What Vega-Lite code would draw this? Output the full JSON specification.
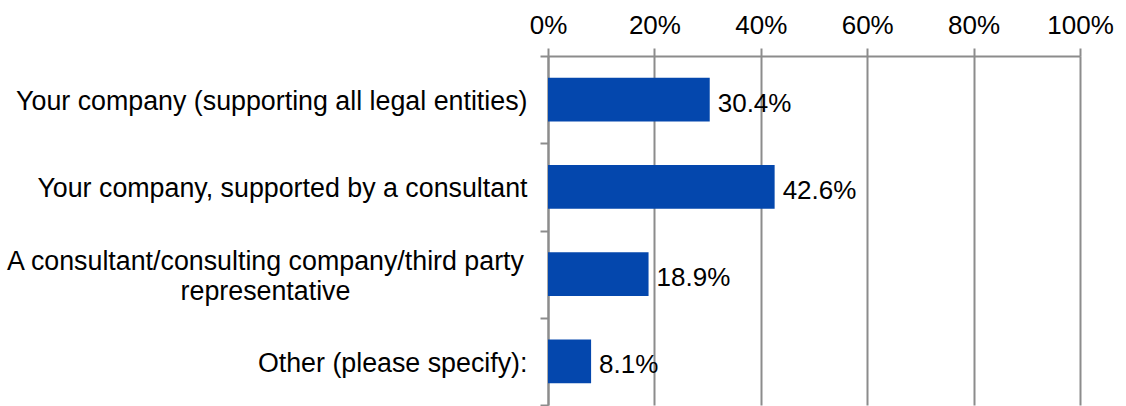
{
  "$schema": "https://vega.github.io/schema/vega-lite/v6.json",
  "autosize": {"type": "none"},
  "width": 532,
  "height": 349,
  "padding": {"left": 548, "top": 56, "right": 46, "bottom": 1},
  "background": "white",
  "config": {
    "view": {"stroke": null},
    "font": "Liberation Sans"
  },
  "data": {
    "values": [
      {"category": "Your company (supporting all legal entities)", "value": 0.304},
      {"category": "Your company, supported by a consultant", "value": 0.426},
      {"category": "A consultant/consulting company/third party representative", "value": 0.189},
      {"category": "Other (please specify):", "value": 0.081}
    ]
  },
  "encoding": {
    "y": {
      "field": "category",
      "type": "nominal",
      "sort": null,
      "title": null,
      "scale": {"paddingInner": 0, "paddingOuter": 0},
      "axis": {
        "orient": "left",
        "tickBand": "extent",
        "domainColor": "#8c8c8c",
        "domainWidth": 2,
        "tickColor": "#8c8c8c",
        "tickWidth": 2,
        "tickSize": 8,
        "labelFont": "Liberation Sans",
        "labelFontSize": 26.8,
        "labelColor": "#000000",
        "labelLimit": 600,
        "labelLineHeight": 30,
        "labelAlign": {"condition": {"test": "datum.value == 'A consultant/consulting company/third party representative'", "value": "center"}, "value": "right"},
        "labelPadding": {"condition": {"test": "datum.value == 'A consultant/consulting company/third party representative'", "value": 275}, "value": 13},
        "labelOffset": {"condition": {"test": "datum.value == 'A consultant/consulting company/third party representative'", "value": -13}, "value": 2},
        "labelExpr": "datum.value == 'A consultant/consulting company/third party representative' ? ['A consultant/consulting company/third party', 'representative'] : datum.label",
        "grid": false
      }
    }
  },
  "layer": [
    {
      "mark": {"type": "bar", "color": "#0447ad", "height": {"band": 0.5}},
      "encoding": {
        "x": {
          "field": "value",
          "type": "quantitative",
          "title": null,
          "scale": {"domain": [0, 1], "nice": false},
          "axis": {
            "orient": "top",
            "values": [0, 0.2, 0.4, 0.6, 0.8, 1],
            "format": ".0%",
            "grid": true,
            "gridColor": "#8c8c8c",
            "gridWidth": 2,
            "domainColor": "#8c8c8c",
            "domainWidth": 2,
            "tickColor": "#8c8c8c",
            "tickWidth": 2,
            "tickSize": 8,
            "labelFont": "Liberation Sans",
            "labelFontSize": 26,
            "labelColor": "#000000",
            "labelBaseline": "alphabetic",
            "labelPadding": 15,
            "labelFlush": false
          }
        }
      }
    },
    {
      "mark": {"type": "text", "align": "left", "baseline": "middle", "dx": 8, "dy": 4, "fontSize": 26, "font": "Liberation Sans", "color": "#000000"},
      "encoding": {
        "x": {"field": "value", "type": "quantitative"},
        "text": {"field": "value", "type": "quantitative", "format": ".1%"}
      }
    }
  ]
}
